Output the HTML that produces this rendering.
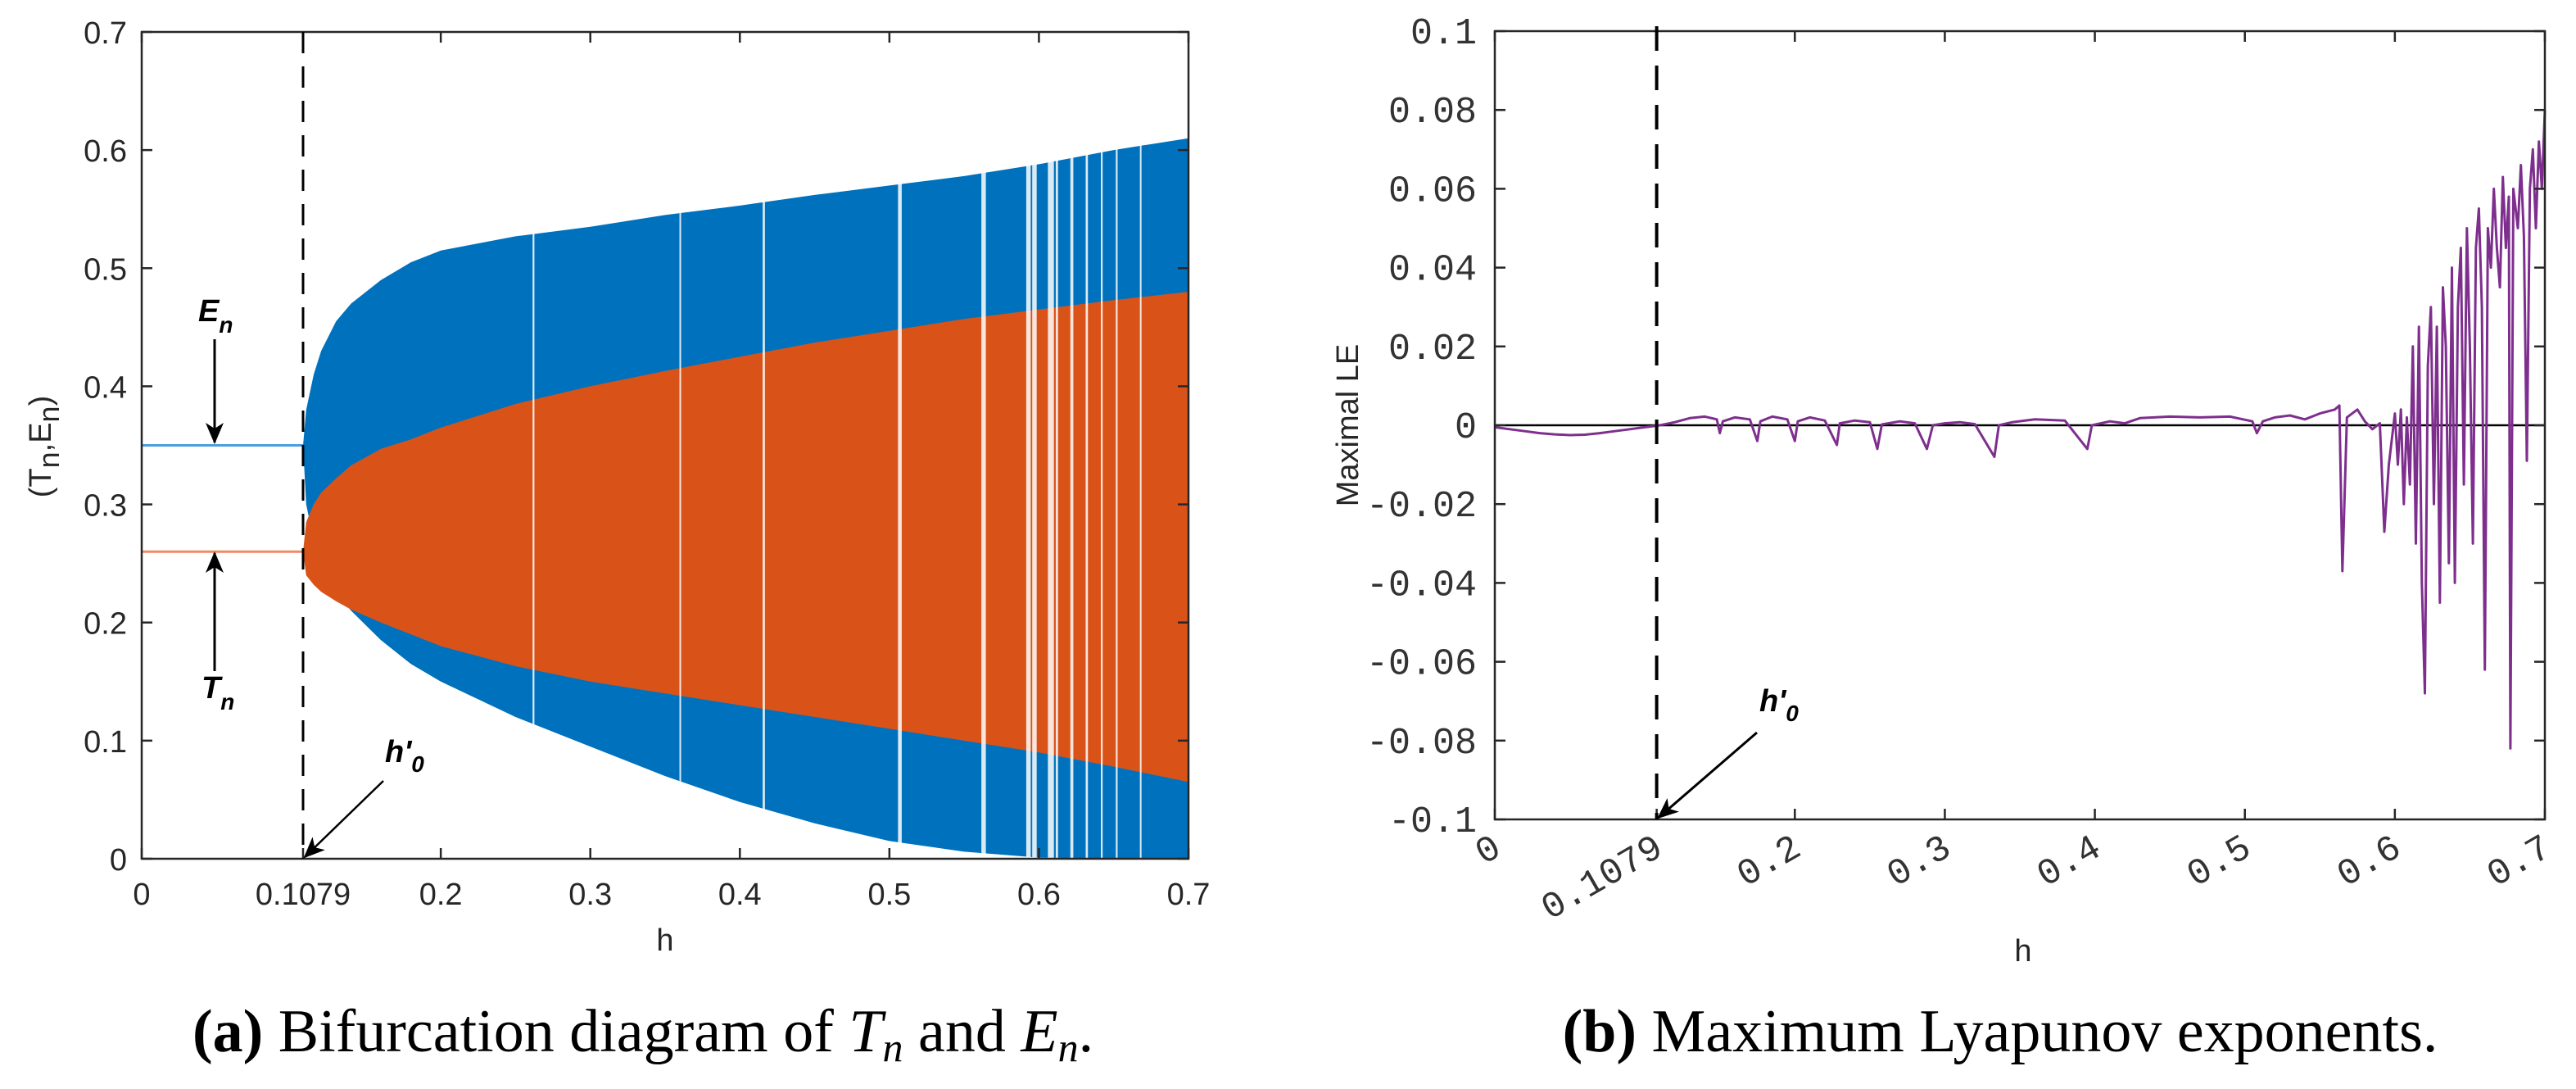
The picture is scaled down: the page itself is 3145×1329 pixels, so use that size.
<!DOCTYPE html>
<html><head><meta charset="utf-8">
<style>
html,body{margin:0;padding:0;background:#fff;}
svg{display:block;}
.tk{font-family:"Liberation Sans",sans-serif;font-size:38px;fill:#262626;}
.mono{font-family:"Liberation Mono",monospace;font-size:45px;fill:#333;}
.cap{font-family:"Liberation Serif",serif;font-size:74px;fill:#000;}
.ann{font-family:"Liberation Sans",sans-serif;font-size:38px;font-weight:bold;font-style:italic;fill:#000;}
</style></head>
<body>
<svg id="fig" width="3145" height="1329" viewBox="0 0 3145 1329" xmlns="http://www.w3.org/2000/svg">
<defs>
<marker id="ahb" markerWidth="26" markerHeight="26" refX="24" refY="13" orient="auto" markerUnits="userSpaceOnUse" viewBox="0 0 26 26">
<path d="M0,2 L26,13 L0,24 L7,13 Z" fill="#000"/></marker>
</defs>
<g id="left"></g>
<g id="right"></g>
<text class="cap" x="785" y="1283" text-anchor="middle"><tspan font-weight="bold">(a)</tspan> Bifurcation diagram of <tspan font-style="italic">T</tspan><tspan font-style="italic" font-size="50" dy="12">n</tspan><tspan dy="-12"> and </tspan><tspan font-style="italic">E</tspan><tspan font-style="italic" font-size="50" dy="12">n</tspan><tspan dy="-12">.</tspan></text>
<text class="cap" x="2442" y="1283" text-anchor="middle"><tspan font-weight="bold">(b)</tspan> Maximum Lyapunov exponents.</text>
</svg>
<script>
// ---- Left chart data ----
const envH      = [0.1079,0.11,0.115,0.12,0.13,0.14,0.16,0.18,0.2,0.25,0.3,0.35,0.4,0.45,0.5,0.55,0.6,0.65,0.7];
const blueUpper = [0.35,0.38,0.41,0.43,0.455,0.47,0.49,0.505,0.515,0.527,0.535,0.545,0.553,0.562,0.57,0.578,0.588,0.6,0.61];
const blueLower = [0.35,0.30,0.27,0.25,0.225,0.21,0.185,0.165,0.15,0.12,0.095,0.07,0.048,0.03,0.015,0.006,0.001,0,0];
const orgUpper  = [0.26,0.285,0.3,0.31,0.322,0.333,0.347,0.355,0.365,0.385,0.4,0.413,0.425,0.437,0.447,0.457,0.465,0.473,0.48];
const orgLower  = [0.26,0.24,0.232,0.226,0.218,0.211,0.2,0.19,0.18,0.163,0.15,0.14,0.13,0.12,0.11,0.1,0.09,0.078,0.065];
const gapH      = [0.262,0.36,0.416,0.507,0.563,0.593,0.597,0.608,0.612,0.622,0.632,0.642,0.652,0.668];
const gapW      = [0.0012,0.0008,0.0015,0.0025,0.003,0.003,0.003,0.004,0.0015,0.002,0.0015,0.0012,0.0012,0.001];
const leftXTicks = [0,0.1079,0.2,0.3,0.4,0.5,0.6,0.7];
const leftXLabels = ["0","0.1079","0.2","0.3","0.4","0.5","0.6","0.7"];
const leftYTicks = [0,0.1,0.2,0.3,0.4,0.5,0.6,0.7];
const leftYLabels = ["0","0.1","0.2","0.3","0.4","0.5","0.6","0.7"];
const bifH = 0.1079, eLevel = 0.35, tLevel = 0.26;

// ---- Right chart data ----
const leH = [0,0.01,0.02,0.03,0.04,0.05,0.06,0.07,0.08,0.09,0.1,0.11,0.12,0.13,0.14,0.148,0.15,0.152,0.16,0.17,0.175,0.177,0.185,0.195,0.2,0.202,0.21,0.22,0.228,0.23,0.24,0.25,0.255,0.258,0.27,0.28,0.288,0.292,0.3,0.31,0.32,0.333,0.336,0.345,0.36,0.38,0.395,0.398,0.41,0.42,0.43,0.45,0.47,0.49,0.505,0.508,0.512,0.52,0.53,0.54,0.55,0.56,0.563,0.565,0.568,0.575,0.58,0.585,0.59,0.593,0.596,0.6,0.602,0.604,0.606,0.608,0.61,0.612,0.614,0.616,0.618,0.62,0.622,0.624,0.626,0.628,0.63,0.632,0.634,0.636,0.638,0.64,0.642,0.644,0.646,0.648,0.65,0.652,0.654,0.656,0.658,0.66,0.662,0.664,0.666,0.668,0.67,0.672,0.674,0.676,0.677,0.679,0.682,0.684,0.686,0.688,0.69,0.692,0.694,0.696,0.698,0.7];
const leV = [-0.0005,-0.001,-0.0015,-0.002,-0.0023,-0.0025,-0.0024,-0.002,-0.0015,-0.001,-0.0005,0,0.0008,0.0018,0.0022,0.0015,-0.002,0.001,0.002,0.0015,-0.004,0.001,0.0022,0.0015,-0.004,0.001,0.002,0.0012,-0.005,0.0005,0.0012,0.0008,-0.006,0.0002,0.001,0.0005,-0.006,0,0.0005,0.0008,0.0003,-0.008,0,0.0008,0.0015,0.0012,-0.006,0,0.001,0.0005,0.0018,0.0022,0.002,0.0022,0.001,-0.002,0.001,0.002,0.0025,0.0015,0.003,0.004,0.005,-0.037,0.002,0.004,0.001,-0.001,0.0005,-0.027,-0.01,0.003,-0.01,0.004,-0.02,0.002,-0.015,0.02,-0.03,0.025,-0.04,-0.068,0.015,0.03,-0.02,0.025,-0.045,0.035,0.02,-0.035,0.04,-0.04,0.03,0.045,-0.015,0.05,0.02,-0.03,0.045,0.055,0.03,-0.062,0.05,0.04,0.06,0.045,0.035,0.063,0.045,0.058,-0.082,0.06,0.05,0.066,0.048,-0.009,0.06,0.07,0.05,0.072,0.06,0.08];
const rightXTicks = [0,0.1079,0.2,0.3,0.4,0.5,0.6,0.7];
const rightXLabels = ["0","0.1079","0.2","0.3","0.4","0.5","0.6","0.7"];
const rightYTicks = [-0.1,-0.08,-0.06,-0.04,-0.02,0,0.02,0.04,0.06,0.08,0.1];
const rightYLabels = ["-0.1","-0.08","-0.06","-0.04","-0.02","0","0.02","0.04","0.06","0.08","0.1"];

const NS = "http://www.w3.org/2000/svg";
function mk(tag, attrs, parent){ const e=document.createElementNS(NS,tag); for(const k in attrs) e.setAttribute(k,attrs[k]); parent.appendChild(e); return e; }

// ---- Left chart ----
const L = {x0:173,x1:1451,y0:1048,y1:39};
const lx = h => L.x0 + h/0.7*(L.x1-L.x0);
const ly = v => L.y0 - v/0.7*(L.y0-L.y1);
const gl = document.getElementById('left');
function band(up, lo, color, name){
  let d = "M" + envH.map((h,i)=>lx(h).toFixed(1)+","+ly(up[i]).toFixed(1)).join(" L");
  for(let i=envH.length-1;i>=0;i--) d += " L"+lx(envH[i]).toFixed(1)+","+ly(lo[i]).toFixed(1);
  const p = mk('path',{d:d+" Z",fill:color},gl);
  
  
}
band(blueUpper, blueLower, "#0072BD", "en-band");
band(orgUpper, orgLower, "#D95319", "tn-band");
gapH.forEach((h,i)=>{
  const r = mk('rect',{x:lx(h-gapW[i]/2),y:ly(0.62),width:Math.max(2,lx(gapW[i])-lx(0)),height:ly(0)-ly(0.62),fill:"#fff",opacity:0.85},gl);
  
  
});
let e1 = mk('line',{x1:L.x0,x2:lx(bifH),y1:ly(eLevel),y2:ly(eLevel),stroke:"#4a9ee0","stroke-width":3},gl);


let t1 = mk('line',{x1:L.x0,x2:lx(bifH),y1:ly(tLevel),y2:ly(tLevel),stroke:"#f08a60","stroke-width":3},gl);


let ax = mk('rect',{x:L.x0,y:L.y1,width:L.x1-L.x0,height:L.y0-L.y1,fill:"none",stroke:"#262626","stroke-width":2.5},gl);


leftXTicks.forEach((v,i)=>{
  mk('line',{x1:lx(v),x2:lx(v),y1:L.y0,y2:L.y0-13,stroke:"#262626","stroke-width":2.5},gl);
  mk('line',{x1:lx(v),x2:lx(v),y1:L.y1,y2:L.y1+13,stroke:"#262626","stroke-width":2.5},gl);
  const t = mk('text',{x:lx(v),y:1104,class:"tk","text-anchor":"middle"},gl);
  t.textContent = leftXLabels[i];
  
  
});
leftYTicks.forEach((v,i)=>{
  mk('line',{x1:L.x0,x2:L.x0+13,y1:ly(v),y2:ly(v),stroke:"#262626","stroke-width":2.5},gl);
  mk('line',{x1:L.x1,x2:L.x1-13,y1:ly(v),y2:ly(v),stroke:"#262626","stroke-width":2.5},gl);
  const t = mk('text',{x:155,y:ly(v)+14,class:"tk","text-anchor":"end"},gl);
  t.textContent = leftYLabels[i];
  
  
});
let dl = mk('line',{x1:lx(bifH),x2:lx(bifH),y1:L.y1,y2:L.y0,stroke:"#000","stroke-width":3,"stroke-dasharray":"26,16"},gl);


let xl = mk('text',{x:812,y:1160,class:"tk","text-anchor":"middle","font-size":"42"},gl);
xl.textContent = "h";


let yl = mk('text',{x:0,y:0,class:"tk","text-anchor":"middle","font-size":"50",transform:"translate(62,545) rotate(-90)"},gl);
yl.innerHTML = `(T<tspan font-size="36" dy="10">n</tspan><tspan dy="-10">,E</tspan><tspan font-size="36" dy="10">n</tspan><tspan dy="-10">)</tspan>`;


// annotations
let ae = mk('line',{x1:262,y1:414,x2:262,y2:540,stroke:"#000","stroke-width":3,"marker-end":"url(#ahb)"},gl);


let at = mk('line',{x1:262,y1:819,x2:262,y2:675,stroke:"#000","stroke-width":3,"marker-end":"url(#ahb)"},gl);


let te = mk('text',{x:242,y:392,class:"ann"},gl);
te.innerHTML = `E<tspan font-size="28" dy="14">n</tspan>`;


let tt = mk('text',{x:246,y:852,class:"ann"},gl);
tt.innerHTML = `T<tspan font-size="28" dy="14">n</tspan>`;


let ah = mk('line',{x1:468,y1:953,x2:lx(bifH)+2,y2:L.y0-2,stroke:"#000","stroke-width":2.5,"marker-end":"url(#ahb)"},gl);


let th = mk('text',{x:470,y:930,class:"ann"},gl);
th.innerHTML = `h'<tspan font-size="28" dy="12">0</tspan>`;



// ---- Right chart ----
const R = {x0:1825,x1:3107,y0:1000,y1:38};
const rx = h => R.x0 + h/0.7*(R.x1-R.x0);
const ry = v => R.y0 - (v+0.1)/0.2*(R.y0-R.y1);
const gr = document.getElementById('right');
let zl = mk('line',{x1:R.x0,x2:R.x1,y1:ry(0),y2:ry(0),stroke:"#000","stroke-width":2.5},gr);


let pd = "M" + leH.map((h,i)=>rx(h).toFixed(1)+","+ry(leV[i]).toFixed(1)).join(" L");
let le = mk('path',{d:pd,fill:"none",stroke:"#7E2F8E","stroke-width":3,"stroke-linejoin":"round"},gr);


let rax = mk('rect',{x:R.x0,y:R.y1,width:R.x1-R.x0,height:R.y0-R.y1,fill:"none",stroke:"#262626","stroke-width":2.5},gr);


rightXTicks.forEach((v,i)=>{
  mk('line',{x1:rx(v),x2:rx(v),y1:R.y0,y2:R.y0-13,stroke:"#262626","stroke-width":2.5},gr);
  mk('line',{x1:rx(v),x2:rx(v),y1:R.y1,y2:R.y1+13,stroke:"#262626","stroke-width":2.5},gr);
  const t = mk('text',{x:0,y:0,class:"mono","text-anchor":"end",transform:"translate("+(rx(v)+10)+",1042) rotate(-30)"},gr);
  t.textContent = rightXLabels[i];
  
  
});
rightYTicks.forEach((v,i)=>{
  mk('line',{x1:R.x0,x2:R.x0+13,y1:ry(v),y2:ry(v),stroke:"#262626","stroke-width":2.5},gr);
  mk('line',{x1:R.x1,x2:R.x1-13,y1:ry(v),y2:ry(v),stroke:"#262626","stroke-width":2.5},gr);
  const t = mk('text',{x:1803,y:ry(v)+15,class:"mono","text-anchor":"end"},gr);
  t.textContent = rightYLabels[i];
  
  
});
let rdl = mk('line',{x1:rx(bifH),x2:rx(bifH),y1:R.y1-6,y2:R.y0,stroke:"#000","stroke-width":4,"stroke-dasharray":"30,18"},gr);


let rxl = mk('text',{x:2470,y:1173,class:"tk","text-anchor":"middle","font-size":"42"},gr);
rxl.textContent = "h";


let ryl = mk('text',{x:0,y:0,class:"tk","text-anchor":"middle",transform:"translate(1658,519) rotate(-90)","font-size":"46"},gr);
ryl.textContent = "Maximal LE";


let rah = mk('line',{x1:2145,y1:894,x2:rx(bifH)+2,y2:R.y0-2,stroke:"#000","stroke-width":3,"marker-end":"url(#ahb)"},gr);


let rth = mk('text',{x:2148,y:868,class:"ann"},gr);
rth.innerHTML = `h'<tspan font-size="28" dy="12">0</tspan>`;


</script>
</body></html>
